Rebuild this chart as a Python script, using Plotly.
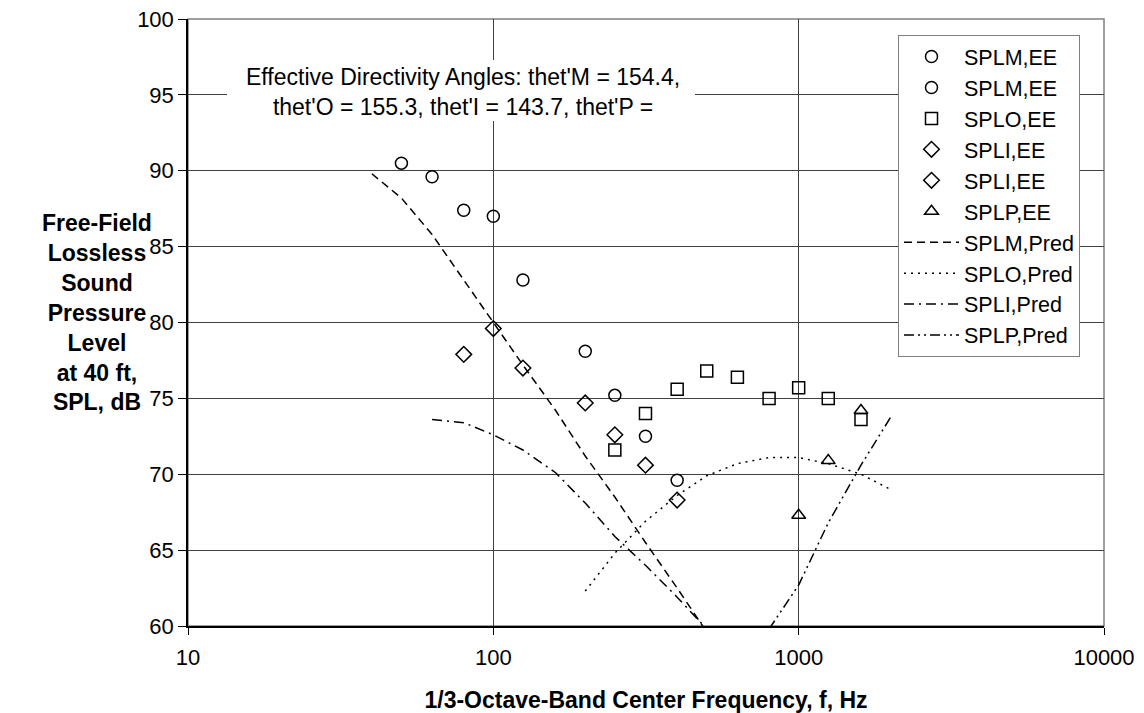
import plotly.graph_objects as go

# ---- data ----
freq_m1 = [50, 63, 80, 100, 125]
spl_m1 = [90.5, 89.6, 87.4, 87.0, 82.8]
freq_m2 = [200, 250, 315, 400]
spl_m2 = [78.1, 75.2, 72.5, 69.6]
freq_o = [250, 315, 400, 500, 630, 800, 1000, 1250, 1600]
spl_o = [71.6, 74.0, 75.6, 76.8, 76.4, 75.0, 75.7, 75.0, 73.6]
freq_i1 = [80, 100, 125]
spl_i1 = [77.9, 79.6, 77.0]
freq_i2 = [200, 250, 315, 400]
spl_i2 = [74.7, 72.6, 70.6, 68.3]
freq_p = [1000, 1250, 1600]
spl_p = [67.3, 70.9, 74.2]

freq_m_pred = [40, 50, 63, 80, 100, 125, 160, 200, 250, 315, 400, 500]
spl_m_pred = [89.8, 88.2, 85.8, 82.8, 80.0, 77.2, 74.2, 71.2, 68.5, 65.5, 62.5, 59.6]
freq_o_pred = [200, 250, 315, 400, 500, 630, 800, 1000, 1250, 1600, 2000]
spl_o_pred = [62.3, 64.8, 66.9, 68.6, 69.9, 70.7, 71.1, 71.1, 70.7, 70.0, 69.0]
freq_i_pred = [63, 80, 100, 125, 160, 200, 250, 315, 400, 500]
spl_i_pred = [73.6, 73.4, 72.6, 71.6, 70.1, 68.1, 65.9, 64.0, 61.9, 59.8]
freq_p_pred = [800, 1000, 1250, 1600, 2000]
spl_p_pred = [59.8, 62.7, 66.8, 70.6, 73.75]

x_ticks = [10, 100, 1000, 10000]
y_ticks = [60, 65, 70, 75, 80, 85, 90, 95, 100]

FONT = "Liberation Sans, Arial, sans-serif"
BLACK = "#000000"

fig = go.Figure()

def add_markers(x, y, name, symbol):
    fig.add_trace(go.Scatter(
        x=x, y=y, mode="markers", name=name,
        marker=dict(symbol=symbol, size=12, color=BLACK,
                    line=dict(color=BLACK, width=1.5)),
    ))

add_markers(freq_m1, spl_m1, "SPLM,EE", "circle-open")
add_markers(freq_m2, spl_m2, "SPLM,EE", "circle-open")
add_markers(freq_o, spl_o, "SPLO,EE", "square-open")
add_markers(freq_i1, spl_i1, "SPLI,EE", "diamond-open")
add_markers(freq_i2, spl_i2, "SPLI,EE", "diamond-open")
add_markers(freq_p, spl_p, "SPLP,EE", "triangle-up-open")

def add_line(x, y, name, dash):
    fig.add_trace(go.Scatter(
        x=x, y=y, mode="lines", name=name,
        line=dict(color=BLACK, width=1.5, dash=dash),
    ))

add_line(freq_m_pred, spl_m_pred, "SPLM,Pred", "8px,5px")
add_line(freq_o_pred, spl_o_pred, "SPLO,Pred", "2px,5px")
add_line(freq_i_pred, spl_i_pred, "SPLI,Pred", "10px,5px,2px,5px")
add_line(freq_p_pred, spl_p_pred, "SPLP,Pred", "10px,4px,2px,4px,2px,4px")

L, R, T, B = 188, 40, 19, 87
W, H = 1144, 713
pw, ph = W - L - R, H - T - B

def px_x(px):
    return (px - L) / pw

def px_y(py):
    return 1 - (py - T) / ph

fig.update_layout(
    width=W, height=H,
    margin=dict(l=L, r=R, t=T, b=B, autoexpand=False),
    paper_bgcolor="white", plot_bgcolor="white",
    font=dict(family=FONT, size=22, color=BLACK),
    showlegend=True,
    legend=dict(
        x=px_x(898), y=px_y(35), xanchor="left", yanchor="top",
        bgcolor="white", bordercolor="#808080", borderwidth=1,
        font=dict(family=FONT, size=21.5, color=BLACK),
        itemwidth=55, tracegroupgap=0,
    ),
    xaxis=dict(
        type="log", range=[1, 4], automargin=False,
        tickvals=x_ticks, ticktext=[str(v) for v in x_ticks],
        showgrid=True, gridcolor="#404040", gridwidth=1,
        showline=True, linecolor=BLACK, linewidth=1.5,
        ticks="outside", ticklen=7, tickcolor=BLACK,
        ticklabelstandoff=4,
        zeroline=False,
        title=dict(text="<b>1/3-Octave-Band Center Frequency, f, Hz</b>",
                   font=dict(family=FONT, size=23, color=BLACK), standoff=30),
    ),
    yaxis=dict(
        range=[60, 100], automargin=False,
        tickvals=y_ticks,
        showgrid=True, gridcolor="#404040", gridwidth=1,
        showline=True, linecolor=BLACK, linewidth=1.5,
        ticks="outside", ticklen=8, tickcolor=BLACK,
        zeroline=False,
    ),
)

# plot frame (gray) on top/right
fig.add_shape(type="rect", xref="paper", yref="paper", x0=0, x1=1, y0=0, y1=1,
              line=dict(color="#808080", width=1.5), layer="below")

# white box behind the annotation text
fig.add_shape(type="rect", xref="paper", yref="paper",
              x0=px_x(227), x1=px_x(695), y0=px_y(121), y1=px_y(60),
              fillcolor="white", line=dict(width=0), layer="above")

fig.add_annotation(
    xref="paper", yref="paper", x=px_x(463), y=px_y(92),
    xanchor="center", yanchor="middle", showarrow=False, align="center",
    text="Effective Directivity Angles: thet'M = 154.4,<br>thet'O = 155.3, thet'I = 143.7, thet'P =",
    font=dict(family=FONT, size=23, color=BLACK),
)

fig.add_annotation(
    xref="paper", yref="paper", x=px_x(97), y=px_y(312),
    xanchor="center", yanchor="middle", showarrow=False, align="center",
    text="<b>Free-Field<br>Lossless<br>Sound<br>Pressure<br>Level<br>at 40 ft,<br>SPL, dB</b>",
    font=dict(family=FONT, size=23, color=BLACK),
)

fig.write_html(
    "out.html",
    config={"displayModeBar": False},
    post_script="document.body.style.margin='0';document.body.style.overflow='hidden';",
)
